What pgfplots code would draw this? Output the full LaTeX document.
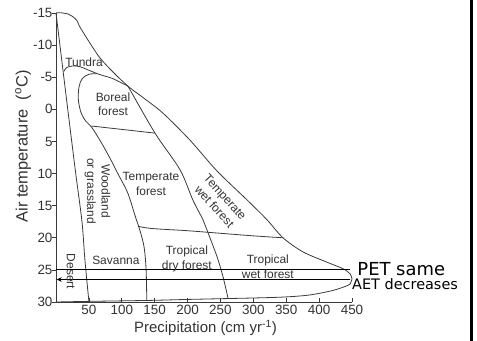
\documentclass[border=0pt]{standalone}
\usepackage{pgfplots}
\pgfplotsset{compat=1.18}
\usepackage{fontspec}
\setmainfont{Liberation Sans}
\newfontfamily\notefont{DejaVu Sans}
\usetikzlibrary{arrows.meta}

\definecolor{biomeline}{HTML}{3A3A3A}
\definecolor{biometext}{HTML}{333333}

\begin{document}
\begin{tikzpicture}[x=1bp,y=1bp]
\path[use as bounding box] (-56bp,-39bp) rectangle (421bp,302bp);
\begin{axis}[
  at={(0,0)}, anchor=south west,
  scale only axis, width=296bp, height=289bp,
  xmin=0, xmax=450, ymin=-15, ymax=30, y dir=reverse,
  axis line style={draw=none},
  clip=false,
  xtick={50,100,...,450}, ytick={-15,-10,...,30},
  xtick pos=bottom, ytick pos=left,
  xticklabel pos=bottom,
  tick align=inside,
  major tick length=4bp,
  every y tick/.append style={xshift=-4bp},
  tick style={biomeline, line width=0.7bp},
  /pgf/number format/assume math mode=true,
  ticklabel style={font=\fontsize{13.5}{15}\selectfont, text=biometext},
  xlabel={Precipitation (cm yr\textsuperscript{-1})},
  ylabel={Air temperature~ (\textsuperscript{o}C)},
  xlabel style={at={(axis description cs:0.505,-0.09)}, anchor=center,
    font=\fontsize{15}{17}\selectfont, text=biometext},
  ylabel style={at={(axis description cs:-0.111,0.538)}, anchor=center,
    font=\fontsize{16.5}{18}\selectfont, text=biometext},
  every axis plot/.append style={biomeline, line width=0.8bp},
]
% axis lines
\addplot[sharp plot] coordinates {(0,-15) (0,30) (450,30)};

% outer envelope, upper edge
\addplot[smooth, tension=0.5] coordinates {
  (0,-15) (6,-15.05) (18,-14.85) (26,-14.4) (32,-13.8) (36.5,-12.8)
  (51.7,-10.3) (66.9,-8) (86.7,-5.8) (109.5,-3.6) (135.3,-1.6)
  (162.7,0.6) (203.7,4.8) (244.8,9.6) (290.4,14.1) (320.8,17.2)
  (345.1,20.0) (375.5,22.2) (412,23.8) (436,24.8) (447,25.6) (450,26.4)};
% outer envelope, lower edge
\addplot[smooth, tension=0.5] coordinates {
  (450,26.4) (448,27.0) (444,27.4) (421,28.2) (386,28.9) (351,29.2)
  (310,29.35) (200,29.6) (143,29.75) (50,29.9) (0,30)};

% desert / woodland boundary
\addplot[smooth] coordinates {
  (0,-15) (18,0.1) (30,10) (39.5,17.5) (44,23.5) (50,29.9)};
% tundra lower boundary
\addplot[smooth] coordinates {
  (12,-5.9) (16,-6.5) (25,-6.75) (36,-6.65) (52,-6.0) (67,-5.4)
  (86,-4.8) (109.5,-3.6)};
% boreal / woodland / savanna edge
\addplot[smooth, tension=0.55] coordinates {
  (62,-5.55) (50,-5.45) (40,-4.8) (35,-3.5) (34,-1.5) (38,0.5)
  (45,1.8) (55,2.9) (69,5.2) (82,7.6) (95,10.2) (109,13) (120,16.5)
  (128,19) (134,21.5) (137,25) (138,29.75)};
% boreal / temperate forest divide
\addplot[sharp plot] coordinates {(54,2.6) (150.5,3.7)};
% seasonal forest / wet forest divide
\addplot[smooth] coordinates {
  (109.5,-3.6) (150.5,3.7) (188.5,9.4) (208,14.1) (223.5,17.2)
  (229.6,18.8) (245,23) (254,26.1) (261.5,29.4)};
% temperate / tropical divide
\addplot[smooth] coordinates {
  (124.5,18.2) (145,18.55) (200,18.9) (250,19.3) (300,19.7) (345.1,20.0)};

% PET and AET lines
\addplot[black, line width=1.1bp] coordinates {(0,25) (447,25)};
\addplot[black, line width=1.1bp, -{Stealth[length=5bp,width=4.5bp]}]
  coordinates {(447,26.5) (1,26.5)};

% biome names
\begin{scope}[every node/.style={font=\fontsize{12}{14.5}\selectfont,
    text=biometext, align=center, inner sep=0pt}]
\node at (axis cs:42.6,-7.4) {Tundra};
\node at (axis cs:86.7,-0.8) {Boreal\\forest};
\node[rotate=-90] at (axis cs:63,12.7) {Woodland\\or grassland};
\node at (axis cs:144.4,11.6) {Temperate\\forest};
\node[rotate=-48] at (axis cs:249,14.4) {Temperate\\wet forest};
\node[rotate=-90] at (axis cs:22.8,25.25) {Desert};
\node at (axis cs:91,23.5) {Savanna};
\node at (axis cs:199,23.3) {Tropical\\dry forest};
\node at (axis cs:322,24.5) {Tropical\\wet forest};
\end{scope}

\node[anchor=base west, inner sep=0pt, font=\notefont\fontsize{18}{20}\selectfont]
  at (axis cs:458,25.8) {PET same};
\node[anchor=base west, inner sep=0pt, font=\notefont\fontsize{14.5}{16}\selectfont]
  at (axis cs:450,28.1) {AET decreases};
\end{axis}
% frame edge on the right
\draw[line width=2.6bp] (415.5bp,-40bp) -- (415.5bp,303bp);
\end{tikzpicture}
\end{document}
